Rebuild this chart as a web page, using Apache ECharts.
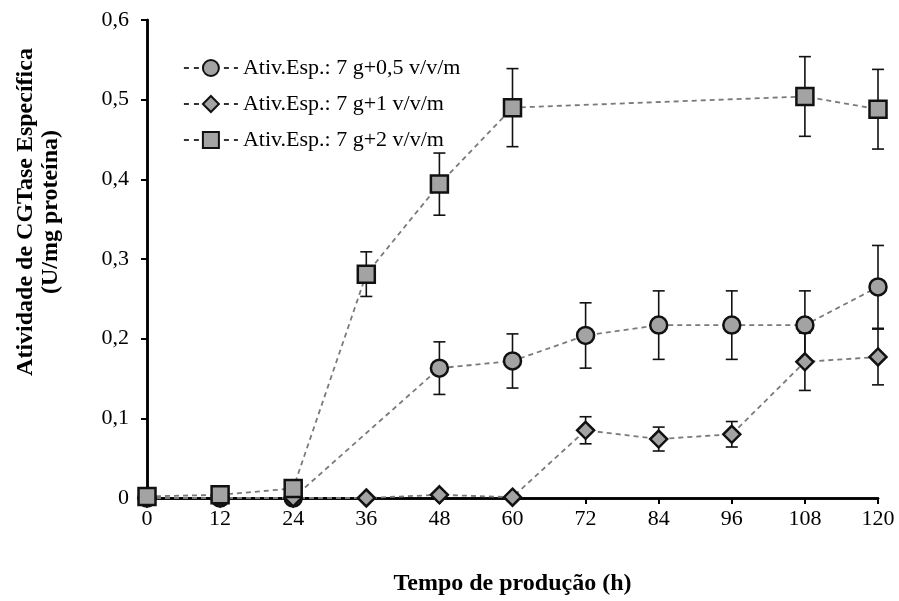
<!DOCTYPE html>
<html>
<head>
<meta charset="utf-8">
<script src="https://cdn.jsdelivr.net/npm/echarts@6/dist/echarts.min.js"></script>
<style>
  html, body { margin: 0; padding: 0; background: #fff; }
  #chart { width: 899px; height: 601px; }
</style>
</head>
<body>
<div id="chart"></div>
<script>
// tempo de produção (h)
var hours = [0, 12, 24, 36, 48, 60, 72, 84, 96, 108, 120];

// Ativ.Esp.: 7 g+0,5 v/v/m  (no point at 36 h)
var circleY   = [0, 0, 0, null, 0.163, 0.172, 0.204, 0.217, 0.217, 0.217, 0.265];
var circleErr = [0, 0, 0, null, 0.033, 0.034, 0.041, 0.043, 0.043, 0.043, 0.052];
// Ativ.Esp.: 7 g+1 v/v/m
var diamY   = [0, 0, 0, 0, 0.004, 0.001, 0.085, 0.074, 0.080, 0.171, 0.177];
var diamErr = [0, 0, 0, 0, 0, 0, 0.017, 0.015, 0.016, 0.036, 0.035];
// Ativ.Esp.: 7 g+2 v/v/m  (no points 72-96 h)
var squareY   = [0.002, 0.004, 0.012, 0.281, 0.394, 0.490, null, null, null, 0.504, 0.488];
var squareErr = [0, 0, 0, 0.028, 0.039, 0.049, null, null, null, 0.050, 0.050];

var names = ['Ativ.Esp.: 7 g+0,5 v/v/m', 'Ativ.Esp.: 7 g+1 v/v/m', 'Ativ.Esp.: 7 g+2 v/v/m'];

function pairs(ys) {
  var out = [];
  for (var i = 0; i < hours.length; i++) {
    if (ys[i] !== null) out.push([hours[i], ys[i]]);
  }
  return out;
}
function errData(ys, es) {
  var out = [];
  for (var i = 0; i < hours.length; i++) {
    if (ys[i] !== null && es[i]) out.push([hours[i], ys[i] - es[i], ys[i] + es[i]]);
  }
  return out;
}

var FONT = '"Liberation Serif", "Times New Roman", serif';

function errSeries(ys, es) {
  return {
    type: 'custom',
    z: 1,
    silent: true,
    data: errData(ys, es),
    renderItem: function (params, api) {
      var lo = api.coord([api.value(0), api.value(1)]);
      var hi = api.coord([api.value(0), api.value(2)]);
      var w = 6;
      var st = { stroke: '#111', lineWidth: 1.6 };
      return {
        type: 'group',
        children: [
          { type: 'line', shape: { x1: lo[0], y1: lo[1], x2: hi[0], y2: hi[1] }, style: st },
          { type: 'line', shape: { x1: lo[0] - w, y1: lo[1], x2: lo[0] + w, y2: lo[1] }, style: st },
          { type: 'line', shape: { x1: hi[0] - w, y1: hi[1], x2: hi[0] + w, y2: hi[1] }, style: st }
        ]
      };
    }
  };
}

function lineSeries(name, ys, symbol, size) {
  return {
    name: name,
    type: 'line',
    z: 3,
    data: pairs(ys),
    symbol: symbol,
    symbolSize: size,
    showAllSymbol: true,
    lineStyle: { color: '#7a7a7a', width: 1.8, type: [5, 4] },
    itemStyle: { color: '#a3a3a3', borderColor: '#111', borderWidth: 2.5 },
    animation: false
  };
}

var chart = echarts.init(document.getElementById('chart'));
chart.setOption({
  backgroundColor: '#fff',
  animation: false,
  textStyle: { fontFamily: FONT, color: '#000' },
  grid: { left: 147, right: 21, top: 20, bottom: 101 },
  legend: {
    data: names,
    orient: 'vertical',
    left: 178,
    top: 52,
    itemWidth: 54,
    itemHeight: 20,
    itemGap: 14,
    lineStyle: { color: '#333', type: [5, 5], width: 1.8 },
    textStyle: { fontFamily: FONT, fontSize: 22, color: '#000' }
  },
  graphic: [{
    type: 'text',
    x: 38, y: 212,
    rotation: Math.PI / 2,
    style: {
      text: 'Atividade de CGTase Específica\n(U/mg proteína)',
      font: 'bold 24px ' + FONT,
      fill: '#000',
      align: 'center',
      verticalAlign: 'middle',
      lineHeight: 25
    }
  }],
  xAxis: [{
    type: 'value',
    min: 0, max: 120, interval: 12,
    name: 'Tempo de produção (h)',
    nameLocation: 'middle',
    nameGap: 74,
    nameTextStyle: { fontFamily: FONT, fontSize: 24, fontWeight: 'bold', color: '#000' },
    axisLine: { lineStyle: { color: '#000', width: 2.5 } },
    axisTick: { inside: false, length: 6, lineStyle: { color: '#000', width: 2 } },
    axisLabel: { fontFamily: FONT, fontSize: 22, color: '#000', margin: 10 },
    splitLine: { show: false }
  }, {
    type: 'value', position: 'top', min: 0, max: 120,
    axisLine: { show: true, lineStyle: { color: '#000', width: 2.5 } },
    axisTick: { show: false }, axisLabel: { show: false }, splitLine: { show: false }
  }],
  yAxis: [{
    type: 'value',
    min: 0, max: 0.6, interval: 0.1,
    axisLine: { show: true, lineStyle: { color: '#000', width: 2.5 } },
    axisTick: { show: true, inside: false, length: 6, lineStyle: { color: '#000', width: 2 } },
    axisLabel: {
      fontFamily: FONT, fontSize: 22, color: '#000', margin: 18,
      formatter: function (v) { return v === 0 ? '0' : v.toFixed(1).replace('.', ','); }
    },
    splitLine: { show: false }
  }, {
    type: 'value', position: 'right', min: 0, max: 0.6,
    axisLine: { show: true, lineStyle: { color: '#000', width: 2.5 } },
    axisTick: { show: false }, axisLabel: { show: false }, splitLine: { show: false }
  }],
  series: [
    errSeries(circleY, circleErr),
    errSeries(diamY, diamErr),
    errSeries(squareY, squareErr),
    lineSeries(names[0], circleY, 'circle', 17),
    lineSeries(names[1], diamY, 'diamond', [17, 17]),
    lineSeries(names[2], squareY, 'rect', 17)
  ]
});
</script>
</body>
</html>
